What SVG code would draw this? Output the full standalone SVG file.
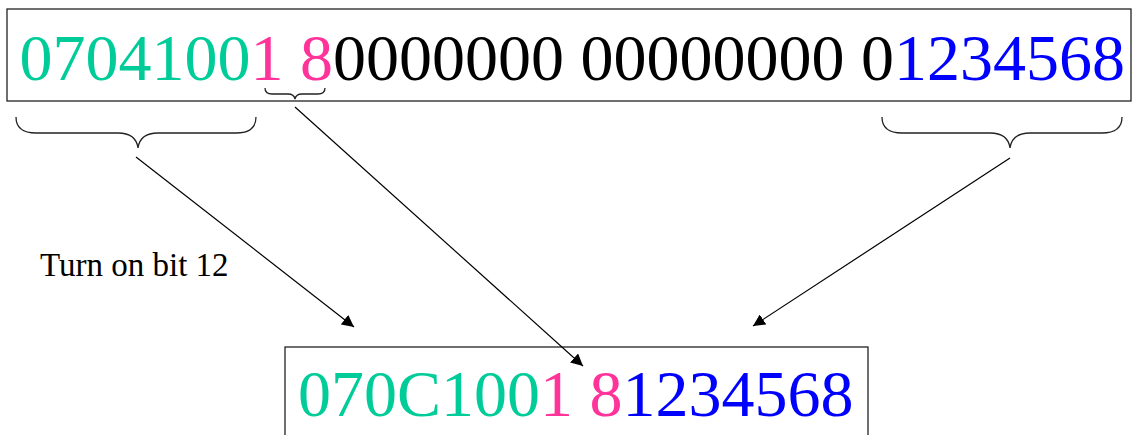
<svg xmlns="http://www.w3.org/2000/svg" width="1135" height="435" viewBox="0 0 1135 435">
<defs>
<style>
.box{fill:#fff;stroke:#222;stroke-width:1.3}
.num{font-family:"Liberation Serif","Times New Roman",serif;font-size:66px}
.g{fill:#00CC99}.p{fill:#FF3399}.b{fill:#0000FF}.k{fill:#000}
.brace{fill:none;stroke:#222;stroke-width:1.3}
.conn{stroke:#000;stroke-width:1.2;fill:none;marker-end:url(#ah)}
.lbl{font-family:"Liberation Serif","Times New Roman",serif;font-size:33px;fill:#000}
</style>
<marker id="ah" viewBox="0 0 10 10" refX="10" refY="5" markerWidth="12" markerHeight="12" markerUnits="userSpaceOnUse" orient="auto">
<path d="M0,0 L10,5 L0,10 Z" fill="#000"/>
</marker>
</defs>
<g id="source">
<rect class="box" x="7" y="9" width="1124" height="92"/>
<text class="num" x="19.5" y="80" xml:space="preserve"><tspan class="g">0704100</tspan><tspan class="p">1 8</tspan><tspan class="k">0000000 00000000 0</tspan><tspan class="b">1234568</tspan></text>
</g>
<g id="braces">
<path class="brace" d="M265,88 Q265,94 272,94 L288,94 Q294,94 295,99 Q296,94 302,94 L318,94 Q325,94 325,88"/>
<path class="brace" d="M16,117 Q16,133 36,133 L118,133 Q136,133 138,148 Q140,133 158,133 L236,133 Q256,133 256,117"/>
<path class="brace" d="M882,117 Q882,133 902,133 L990,133 Q1008,133 1010,148 Q1012,133 1030,133 L1102,133 Q1122,133 1122,117"/>
</g>
<g id="label">
<text class="lbl" x="40" y="276">Turn on bit 12</text>
</g>
<g id="result">
<rect class="box" x="285" y="347" width="583" height="100"/>
<text class="num" x="298" y="416" xml:space="preserve"><tspan class="g">070C100</tspan><tspan class="p">1 8</tspan><tspan class="b">1234568</tspan></text>
</g>
<g id="connectors">
<line class="conn" x1="136" y1="157" x2="354" y2="327"/>
<line class="conn" x1="295" y1="107" x2="583" y2="366"/>
<line class="conn" x1="1010" y1="158" x2="753" y2="326"/>
</g>
</svg>
